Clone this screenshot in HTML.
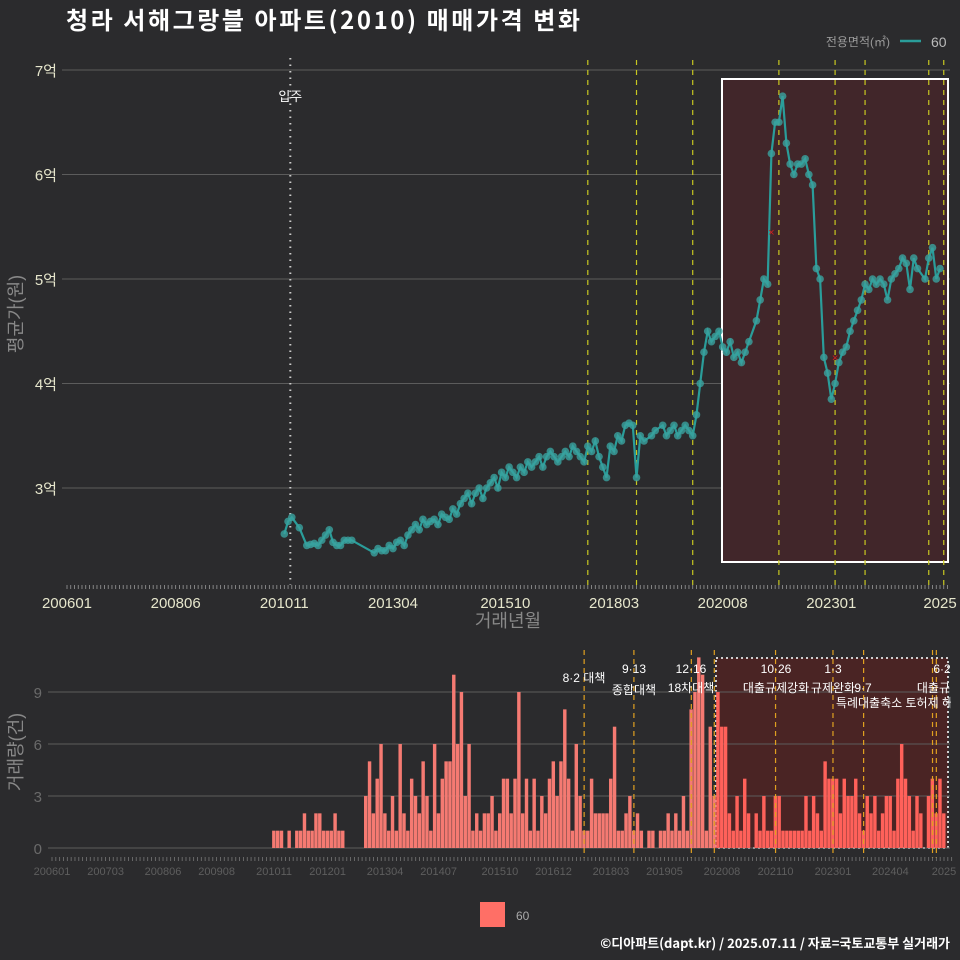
<!DOCTYPE html>
<html><head><meta charset="utf-8">
<style>
html,body{margin:0;padding:0;background:#2b2b2d;}
svg{display:block;font-family:"Liberation Sans","Noto Sans CJK KR",sans-serif;}
</style></head>
<body>
<svg id="chart" width="960" height="960" viewBox="0 0 960 960" xmlns="http://www.w3.org/2000/svg">
<rect width="960" height="960" fill="#2b2b2d"/>
<text x="66" y="29" fill="#ffffff" font-size="24" font-weight="bold" style="font-family:'Noto Sans CJK KR',sans-serif" textLength="514">청라 서해그랑블 아파트(2010) 매매가격 변화</text>
<g id="legendTop">
<text x="890" y="46" fill="#9a9a9a" font-size="12" text-anchor="end">전용면적(㎡)</text>
<line x1="900" y1="41" x2="921" y2="41" stroke="#2a9d9a" stroke-width="2.5"/>
<text x="931" y="47" fill="#bbbbbb" font-size="14">60</text>
</g>
<g id="topPanel"></g>
<g id="botPanel"></g>
<rect x="480" y="902" width="25" height="25" fill="#ff6f66"/>
<text x="516" y="920" fill="#aaaaaa" font-size="12">60</text>
<text x="950" y="948" fill="#ffffff" font-size="13" font-weight="bold" text-anchor="end" style="font-family:'Noto Sans CJK KR',sans-serif">©디아파트(dapt.kr) / 2025.07.11 / 자료=국토교통부 실거래가</text>
</svg>
<script>
const startMonthIndex = 58; // 201011 relative to 200601
const volumes = [1,1,1,
0,1,0,1,1,2,1,1,2,2,1,1,
1,2,1,1,0,0,0,0,0,3,5,2,
4,6,2,1,3,1,6,2,1,4,3,2,
5,3,1,6,2,4,5,5,10,6,9,3,
6,1,2,1,2,2,3,1,2,4,4,2,
4,9,2,4,1,4,1,3,2,4,5,3,
5,8,4,1,6,3,1,1,4,2,2,2,
2,4,7,1,1,2,3,1,2,1,0,1,
1,0,1,1,2,1,2,1,3,1,8,9,
11,10,1,7,3,9,7,7,2,1,3,1,
4,2,0,2,1,3,1,1,3,3,1,1,
1,1,1,1,3,1,3,2,1,5,4,4,
4,2,4,3,3,4,2,1,3,2,3,1,
2,3,3,1,4,6,4,3,1,3,2,0,
3,4,2,4,2];
const prices = [2.56,2.68,2.72,
2.7,2.62,2.5,2.45,2.46,2.47,2.45,2.5,2.55,2.6,2.48,2.45,
2.45,2.5,2.5,2.5,2.5,2.5,2.5,2.5,2.5,2.38,2.42,2.4,
2.4,2.45,2.42,2.48,2.5,2.45,2.55,2.6,2.65,2.6,2.7,2.65,
2.68,2.7,2.65,2.75,2.72,2.7,2.8,2.75,2.85,2.9,2.95,2.85,
2.95,3.0,2.9,3.0,3.05,3.1,3.0,3.15,3.1,3.2,3.15,3.1,
3.2,3.15,3.25,3.2,3.25,3.3,3.2,3.3,3.35,3.3,3.25,3.3,
3.35,3.3,3.4,3.35,3.3,3.25,3.4,3.35,3.45,3.3,3.2,3.1,
3.4,3.35,3.5,3.45,3.6,3.62,3.6,3.1,3.5,3.45,3.5,3.5,
3.55,3.5,3.6,3.5,3.55,3.6,3.5,3.55,3.6,3.55,3.5,3.7,
4.0,4.3,4.5,4.4,4.45,4.5,4.35,4.3,4.4,4.25,4.3,4.2,
4.3,4.4,4.5,4.6,4.8,5.0,4.95,6.2,6.5,6.5,6.75,6.3,
6.1,6.0,6.1,6.1,6.15,6.0,5.9,5.1,5.0,4.25,4.1,3.85,
4.0,4.2,4.3,4.35,4.5,4.6,4.7,4.8,4.95,4.9,5.0,4.95,
5.0,4.95,4.8,5.0,5.05,5.1,5.2,5.15,4.9,5.2,5.1,4.8,
5.0,5.2,5.3,5.0,5.1];
const priceTicks = [3,4,5,6,7];
const volTicks = [0,3,6,9];
const topXLabels = ["200601","200806","201011","201304","201510","201803","202008","202301","2025"];
const topXLabelMonths = [0,29,58,87,117,146,175,204,233];
const botXLabels = ["200601","200703","200806","200908","201011","201201","201304","201407","201510","201612","201803","201905","202008","202110","202301","202404","2025"];
const botXLabelMonths = [0,14,29,43,58,72,87,101,117,131,146,160,175,189,204,219,233];
const policyMonths = [139,152,167,190,205,213,230,234];
const botPolicyMonths = [139,152,167,173,189,204,212,230,231];
const crossMonths = [188,205];
const crossValues = [5.45,4.25];

const NS="http://www.w3.org/2000/svg";
function mk(tag,attrs,parent){const e=document.createElementNS(NS,tag);for(const k in attrs)e.setAttribute(k,attrs[k]);parent.appendChild(e);return e;}
const topG=document.getElementById('topPanel'), botG=document.getElementById('botPanel');
const tx=m=>67+m*(940-67)/233;
const ty=v=>488-(v-3)*104.5;
const bx=m=>52+m*(944-52)/233;
const by=v=>848-v*17.33;

priceTicks.forEach(v=>{
 let l=mk('line',{x1:62,x2:950,y1:ty(v),y2:ty(v),stroke:'#5c5c5c','stroke-width':1},topG);
 
 
 let t=mk('text',{x:57,y:ty(v)+6,fill:'#e6e6cc','font-size':15,'text-anchor':'end'},topG);
 t.textContent=v+'억';
 
 
});
let hb=mk('rect',{x:722,y:79,width:226,height:483,fill:'#41262a',stroke:'#ffffff','stroke-width':2},topG);


let mv=mk('line',{x1:tx(58)+6,x2:tx(58)+6,y1:58,y2:585,stroke:'#cccccc','stroke-width':2,'stroke-dasharray':'1.5 5'},topG);


let mt=mk('text',{x:tx(58)+6,y:101,fill:'#ffffff','font-size':13,'text-anchor':'middle'},topG);mt.textContent='입주';


policyMonths.forEach(m=>{
 let l=mk('line',{x1:tx(m),x2:tx(m),y1:60,y2:585,stroke:'#c8c820','stroke-width':1.2,'stroke-dasharray':'5 5'},topG);
 
 
});
let d='';let pen=false;
prices.forEach((v,i)=>{ if(volumes[i]>0){d+=(pen?'L':'M')+tx(startMonthIndex+i).toFixed(1)+' '+ty(v).toFixed(1)+' ';pen=true;} });
let pl=mk('path',{d:d,fill:'none',stroke:'#2a9d9a','stroke-width':2.2},topG);


prices.forEach((v,i)=>{ if(volumes[i]>0){
 let c=mk('circle',{cx:tx(startMonthIndex+i),cy:ty(v),r:3.8,fill:'#3aa39f','fill-opacity':0.8},topG);
 
 
}});
crossMonths.forEach((m,i)=>{
 let t=mk('text',{x:tx(m),y:ty(crossValues[i])+4,fill:'#d42020','font-size':11,'text-anchor':'middle'},topG);t.textContent='×';
 
 
});
for(let m=0;m<=235;m++){
 let l=mk('line',{x1:tx(m),x2:tx(m),y1:585,y2:589,stroke:'#999','stroke-width':0.8},topG);
 
 
}
topXLabels.forEach((s,i)=>{
 let t=mk('text',{x:tx(topXLabelMonths[i]),y:608,fill:'#e6e6cc','font-size':15,'text-anchor':'middle'},topG);t.textContent=s;
 
 
});
let xt=mk('text',{x:508,y:627,fill:'#888','font-size':18,'text-anchor':'middle'},topG);xt.textContent='거래년월';


let yt=mk('text',{x:0,y:0,fill:'#888','font-size':18,'text-anchor':'middle',transform:'translate(22 314) rotate(-90)'},topG);yt.textContent='평균가(원)';



let bb=mk('rect',{x:716,y:658,width:232,height:190,fill:'#4a2424',stroke:'#cfcfcf','stroke-width':2,'stroke-dasharray':'2 3'},botG);


volTicks.forEach(v=>{
 let l=mk('line',{x1:48,x2:950,y1:by(v),y2:by(v),stroke:'#5c5c5c','stroke-width':1},botG);
 
 
 let t=mk('text',{x:42,y:by(v)+6,fill:'#6a6a6a','font-size':15,'text-anchor':'end'},botG);t.textContent=v;
 
 
});
const bw=(944-52)/233;
volumes.forEach((v,i)=>{ if(v>0){
 const m=startMonthIndex+i;
 let r=mk('rect',{x:bx(m)-bw/2,y:by(v),width:bw-0.4,height:by(0)-by(v),fill:m>=174?'#ff615a':'#f57a72'},botG);
 
 
}});
botPolicyMonths.forEach(m=>{
 let l=mk('line',{x1:bx(m),x2:bx(m),y1:650,y2:858,stroke:'#e0a020','stroke-width':1.2,'stroke-dasharray':'5 4'},botG);
 
 
});
const anns=[["8·2 대책",584,682],["9·13",634,673],["종합대책",634,694],["12·16",691,673],["18차대책",691,692],["10·26",776,673],["대출규제강화",776,692],["1·3",833,673],["규제완화",833,692],["9·7",863,692],["특례대출축소 토허제 해제",900,707],["6·2",942,673],["대출규",950,692]];
anns.forEach(a=>{
 let t=mk('text',{x:a[1],y:a[2],fill:'#ffffff','font-size':12,'text-anchor':a[1]>=945?'end':'middle'},botG);t.textContent=a[0];
 
 
});
let cover=mk('rect',{x:951,y:640,width:9,height:80,fill:'#2b2b2d'},botG);


for(let m=0;m<=235;m++){
 let l=mk('line',{x1:bx(m),x2:bx(m),y1:857,y2:861,stroke:'#777','stroke-width':0.8},botG);
 
 
}
botXLabels.forEach((s,i)=>{
 let t=mk('text',{x:bx(botXLabelMonths[i]),y:875,fill:'#5e5e5e','font-size':11,'text-anchor':'middle'},botG);t.textContent=s;
 
 
});
let vt=mk('text',{x:0,y:0,fill:'#888','font-size':18,'text-anchor':'middle',transform:'translate(22 752) rotate(-90)'},botG);vt.textContent='거래량(건)';


</script>
</body></html>
